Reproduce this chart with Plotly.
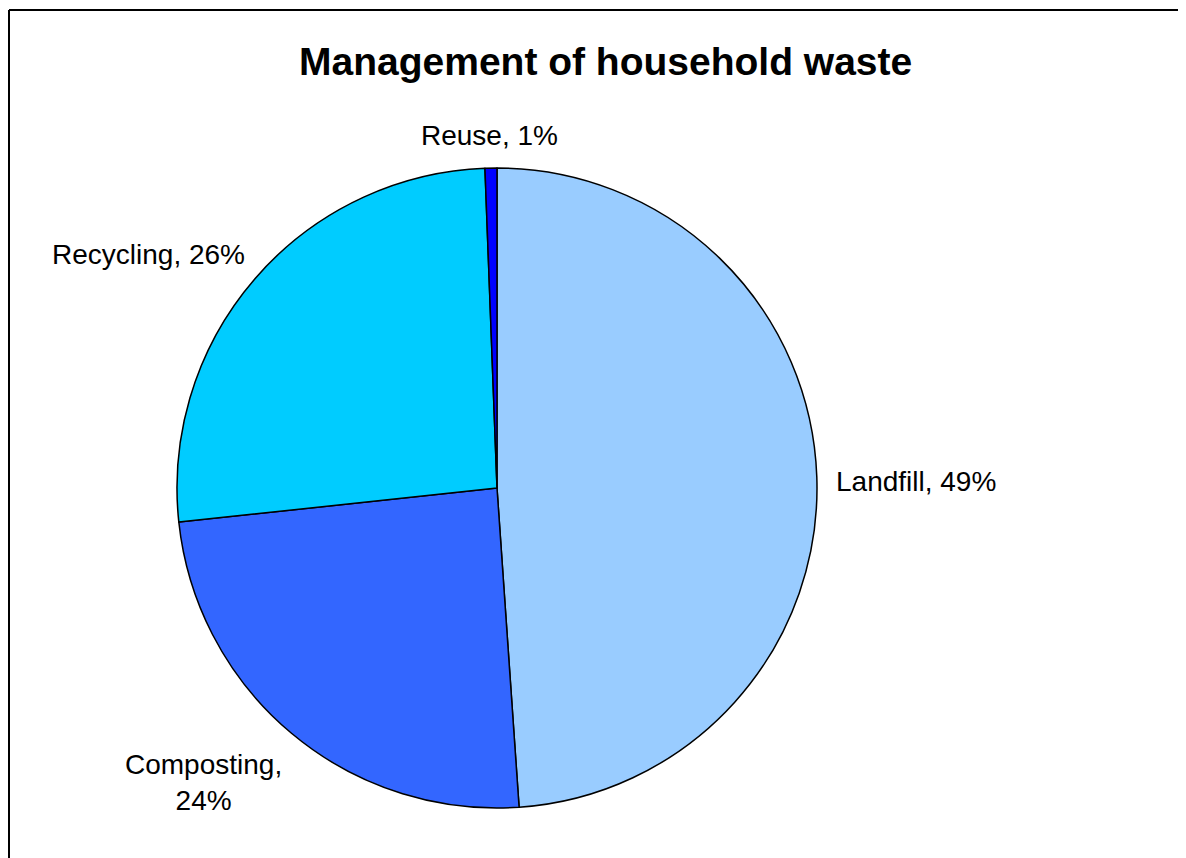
import plotly.graph_objects as go

categories = ["Landfill", "Composting", "Recycling", "Reuse"]
values = [48.9, 24.4, 26.1, 0.6]
colors = ["#99CCFF", "#3366FF", "#00CCFF", "#0000FF"]
title_text = "Management of household waste"

W, H = 1186, 858
OFF = 8  # page body margin offset
cx, cy, r = 497 - OFF, 488 - OFF, 320  # pie centre / radius in pixels

def px(x):
    return x / W

def py(y):
    return 1 - y / H

total = sum(values)
pct = {c: round(v / total * 100) for c, v in zip(categories, values)}

fig = go.Figure(go.Pie(
    labels=categories,
    values=values,
    sort=False,
    direction="clockwise",
    rotation=0,
    marker=dict(colors=colors, line=dict(color="black", width=1.5)),
    textinfo="none",
    hoverinfo="label+percent",
    showlegend=False,
    domain=dict(x=[px(cx - r), px(cx + r)], y=[py(cy + r), py(cy - r)]),
))

label_pos = {
    "Reuse": (489, 135, "Reuse, {}%"),
    "Recycling": (148, 255, "Recycling, {}%"),
    "Landfill": (916, 481, "Landfill, {}%"),
    "Composting": (204, 782, "Composting,<br>{}%"),
}
annotations = []
for c in categories:
    x, y, fmt = label_pos[c]
    annotations.append(dict(
        x=px(x - OFF), y=py(y - OFF), xref="paper", yref="paper",
        text=fmt.format(pct[c]), showarrow=False,
        xanchor="center", yanchor="middle", align="center",
        font=dict(family="Liberation Sans, Arial, sans-serif", size=28, color="black"),
    ))
annotations.append(dict(
    x=px(605 - OFF), y=py(62 - OFF), xref="paper", yref="paper",
    text="<b>" + title_text + "</b>", showarrow=False,
    xanchor="center", yanchor="middle",
    font=dict(family="Liberation Sans, Arial, sans-serif", size=39, color="black"),
))

fig.update_layout(
    width=W, height=H,
    margin=dict(l=0, r=0, t=0, b=0),
    paper_bgcolor="white",
    plot_bgcolor="white",
    annotations=annotations,
    shapes=[
        dict(type="line", xref="paper", yref="paper",
             x0=px(9 - OFF), x1=px(9 - OFF), y0=0, y1=py(10 - OFF),
             line=dict(color="black", width=2)),
        dict(type="line", xref="paper", yref="paper",
             x0=px(9 - OFF), x1=1, y0=py(10 - OFF), y1=py(10 - OFF),
             line=dict(color="black", width=2)),
    ],
)

fig.write_html("out.html")
